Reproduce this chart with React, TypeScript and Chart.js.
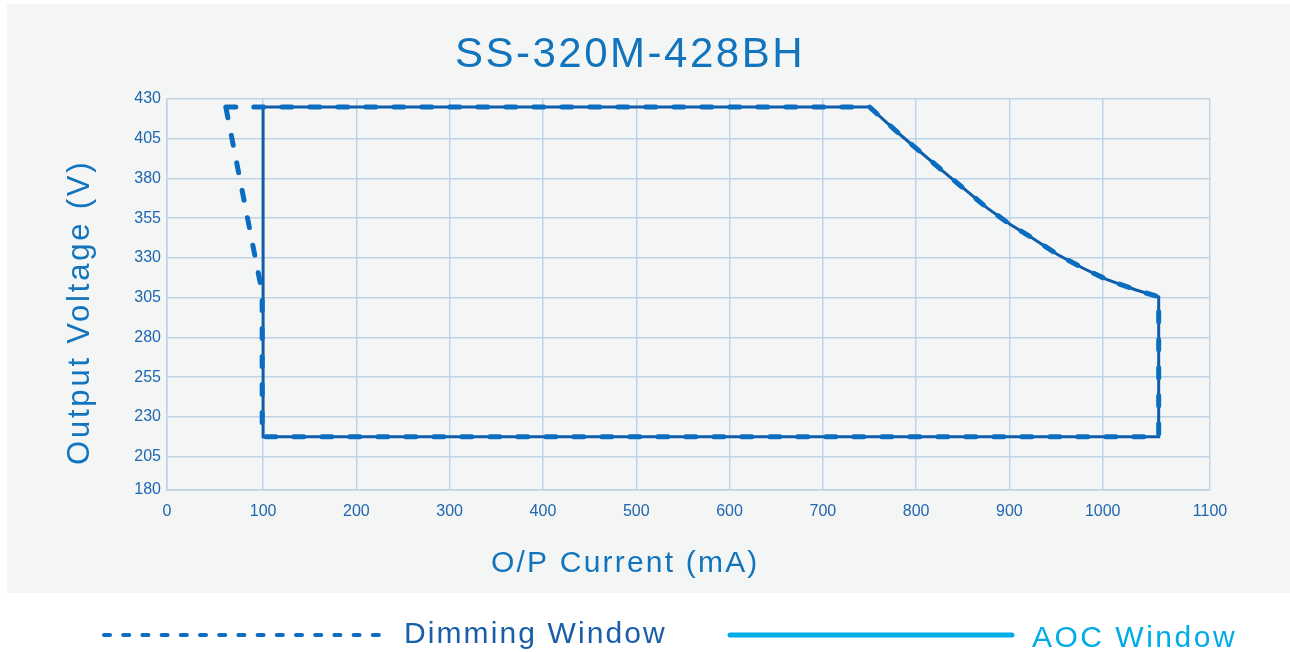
import React, { useEffect, useRef } from 'react';
import { Chart, registerables } from 'chart.js';

Chart.register(...registerables);

const TITLE = 'SS-320M-428BH';
const X_TITLE = 'O/P Current (mA)';
const Y_TITLE = 'Output Voltage (V)';
const LEGEND_DIMMING = 'Dimming Window';
const LEGEND_AOC = 'AOC Window';

// Axis ticks (the reference draws the edge ticks slightly off the linear grid)
const xTickValues = [-3, 100, 200, 300, 400, 500, 600, 700, 800, 900, 1000, 1115];
const xTickLabels = ['0', '100', '200', '300', '400', '500', '600', '700', '800', '900', '1000', '1100'];
const yTickValues = [184, 205, 230, 255, 280, 305, 330, 355, 380, 405, 430];
const yTickLabels = ['180', '205', '230', '255', '280', '305', '330', '355', '380', '405', '430'];

// Constant-power boundary (current mA, voltage V)
const curveCurrent = [750, 783, 829, 876, 901, 922, 952, 979, 1004, 1035, 1060];
const curveVoltage = [425, 407.5, 384.5, 361.5, 351, 343.5, 332, 323.5, 316.5, 310, 305.5];

// AOC window (solid)
const aocCurrent = [100, ...curveCurrent, 1060, 100, 100];
const aocVoltage = [425, ...curveVoltage, 217.5, 217.5, 425];

// Dimming window (dashed)
const dimCurrent = [60, ...curveCurrent, 1060, 99, 99, 60];
const dimVoltage = [425, ...curveVoltage, 217.5, 217.5, 308, 425];

const FONT = "'Liberation Sans', Arial, Helvetica, sans-serif";
const GRID = '#bfd3e7';
const TICK_COLOR = '#2166ae';
const TITLE_COLOR = '#1174bc';
const DIM_COLOR = '#0b6dbf';
const AOC_COLOR = '#105da9';
const DIM_TEXT = '#1a5ea8';
const AOC_LEGEND = '#00ace8';

const toPoints = (xs: number[], ys: number[]) => xs.map((x, i) => ({ x, y: ys[i] }));

function drawText(
  ctx: CanvasRenderingContext2D,
  text: string,
  x: number,
  y: number,
  size: number,
  color: string,
  spacing: number,
  rotate = 0
) {
  ctx.save();
  ctx.translate(x, y);
  if (rotate) ctx.rotate(rotate);
  ctx.font = `${size}px ${FONT}`;
  ctx.fillStyle = color;
  (ctx as any).letterSpacing = `${spacing}px`;
  ctx.textAlign = 'left';
  ctx.textBaseline = 'alphabetic';
  ctx.fillText(text, 0, 0);
  ctx.restore();
}

const backgroundPlugin = {
  id: 'panelBackground',
  beforeDraw(chart: any) {
    const ctx = chart.ctx as CanvasRenderingContext2D;
    ctx.save();
    ctx.fillStyle = '#ffffff';
    ctx.fillRect(0, 0, chart.width, chart.height);
    ctx.fillStyle = '#f4f6f6';
    ctx.fillRect(7, 4, chart.width - 7, 589);
    ctx.restore();
  },
};

const textPlugin = {
  id: 'labelsAndLegend',
  afterDraw(chart: any) {
    const ctx = chart.ctx as CanvasRenderingContext2D;
    drawText(ctx, TITLE, 455, 67, 42, TITLE_COLOR, 2.5);
    drawText(ctx, X_TITLE, 491, 572, 30, TITLE_COLOR, 2.2);
    drawText(ctx, Y_TITLE, 89, 465, 31, TITLE_COLOR, 2.8, -Math.PI / 2);

    // legend: dimming window (dashed)
    ctx.save();
    ctx.strokeStyle = DIM_COLOR;
    ctx.lineWidth = 4;
    ctx.lineCap = 'round';
    ctx.setLineDash([6, 13.2]);
    ctx.beginPath();
    ctx.moveTo(104, 635);
    ctx.lineTo(386, 635);
    ctx.stroke();
    ctx.restore();
    drawText(ctx, LEGEND_DIMMING, 404, 643, 30, DIM_TEXT, 2.1);

    // legend: AOC window (solid)
    ctx.save();
    ctx.strokeStyle = AOC_LEGEND;
    ctx.lineWidth = 5;
    ctx.lineCap = 'round';
    ctx.beginPath();
    ctx.moveTo(730, 635);
    ctx.lineTo(1012, 635);
    ctx.stroke();
    ctx.restore();
    drawText(ctx, LEGEND_AOC, 1032, 647, 30, AOC_LEGEND, 2.5);
  },
};

export default function App() {
  const canvasRef = useRef<HTMLCanvasElement | null>(null);

  useEffect(() => {
    const canvas = canvasRef.current;
    if (!canvas) return;
    const chart = new Chart(canvas, {
      type: 'line',
      data: {
        datasets: [
          {
            label: LEGEND_DIMMING,
            data: toPoints(dimCurrent, dimVoltage),
            borderColor: DIM_COLOR,
            borderWidth: 5,
            borderDash: [10, 18],
            borderCapStyle: 'round',
            borderJoinStyle: 'round',
            pointRadius: 0,
            fill: false,
            tension: 0,
          },
          {
            label: LEGEND_AOC,
            data: toPoints(aocCurrent, aocVoltage),
            borderColor: AOC_COLOR,
            borderWidth: 3,
            borderJoinStyle: 'miter',
            pointRadius: 0,
            fill: false,
            tension: 0,
          },
        ],
      },
      options: {
        responsive: false,
        animation: false,
        devicePixelRatio: 1,
        layout: { padding: { left: 107, right: 80, top: 99, bottom: 122 } },
        plugins: {
          legend: { display: false },
          title: { display: false },
          tooltip: { enabled: false },
        },
        scales: {
          x: {
            type: 'linear',
            min: -3,
            max: 1115,
            afterBuildTicks: (scale: any) => {
              scale.ticks = xTickValues.map((v) => ({ value: v }));
            },
            afterFit: (scale: any) => {
              scale.height = 40;
            },
            ticks: {
              callback: (_v: any, i: number) => xTickLabels[i],
              padding: 12,
              color: TICK_COLOR,
              font: { family: FONT, size: 16 },
              maxRotation: 0,
              autoSkip: false,
            },
            grid: { color: GRID, lineWidth: 1.5, drawTicks: false },
            border: { color: GRID, width: 1.5 },
          },
          y: {
            type: 'linear',
            min: 184,
            max: 430,
            afterBuildTicks: (scale: any) => {
              scale.ticks = yTickValues.map((v) => ({ value: v }));
            },
            afterFit: (scale: any) => {
              scale.width = 60;
            },
            ticks: {
              callback: (_v: any, i: number) => yTickLabels[i],
              padding: 6,
              color: TICK_COLOR,
              font: { family: FONT, size: 16 },
              autoSkip: false,
            },
            grid: { color: GRID, lineWidth: 1.5, drawTicks: false },
            border: { color: GRID, width: 1.5 },
          },
        },
      },
      plugins: [backgroundPlugin, textPlugin],
    } as any);
    return () => chart.destroy();
  }, []);

  return (
    <div style={{ position: 'absolute', left: 0, top: 0, width: 1290, height: 652 }}>
      <canvas ref={canvasRef} width={1290} height={652} style={{ display: 'block', width: 1290, height: 652 }} />
    </div>
  );
}
